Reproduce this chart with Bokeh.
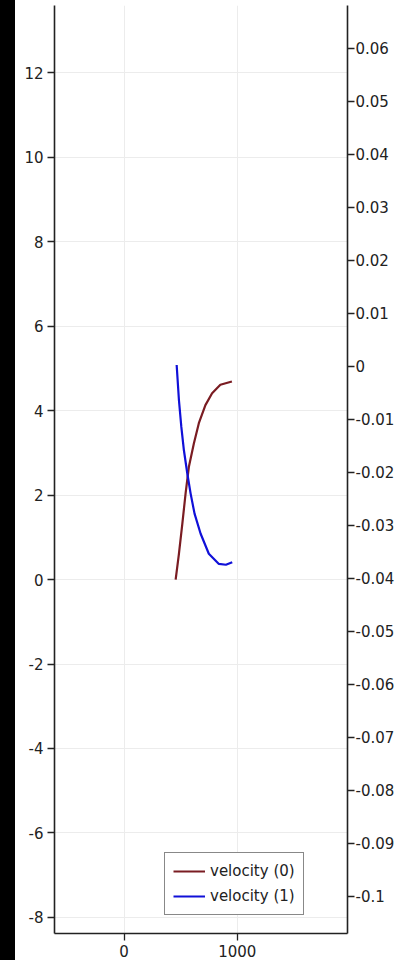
from bokeh.plotting import figure
from bokeh.models import (Range1d, LinearAxis, FixedTicker, CustomJSTickFormatter,
                          Legend, LegendItem, Div)
from bokeh.layouts import row
from bokeh.embed import file_html
from bokeh.resources import INLINE

# ---- data ----
v0_x = [456, 485, 515, 544, 573, 617, 661, 719, 778, 851, 953]
v0_y = [0.0, 0.61, 1.32, 2.04, 2.67, 3.22, 3.70, 4.13, 4.41, 4.61, 4.69]
v1_x = [465, 485, 506, 529, 559, 588, 623, 676, 749, 838, 900, 956]
v1_y = [5.08, 4.25, 3.62, 3.06, 2.51, 2.04, 1.56, 1.09, 0.61, 0.37, 0.35, 0.41]
series_names = ["velocity (0)", "velocity (1)"]
x_ticks = [0, 1000]
left_ticks = [-8, -6, -4, -2, 0, 2, 4, 6, 8, 10, 12]
right_ticks = [0.06, 0.05, 0.04, 0.03, 0.02, 0.01, 0.0, -0.01, -0.02, -0.03,
               -0.04, -0.05, -0.06, -0.07, -0.08, -0.09, -0.1]

FONT = "DejaVu Sans"
FS = "15px"
TXT = "#222222"

p = figure(width=386, height=960, output_backend="svg", toolbar_location=None,
           x_range=Range1d(-614, 1974), y_range=Range1d(-8.38, 13.59),
           min_border_left=39, min_border_right=54, min_border_top=5,
           min_border_bottom=27, x_axis_location="below", y_axis_location="left")
p.outline_line_color = None
p.background_fill_color = "white"
p.border_fill_color = "white"

p.extra_y_ranges = {"right": Range1d(-0.107, 0.0681)}
raxis = LinearAxis(y_range_name="right", ticker=FixedTicker(ticks=right_ticks))
raxis.formatter = CustomJSTickFormatter(
    code="var s = tick.toFixed(2).replace(/0+$/, '').replace(/\\.$/, ''); if (s === '-0') s = '0'; return s;")
p.add_layout(raxis, "right")

p.xaxis.ticker = FixedTicker(ticks=x_ticks)
p.yaxis[0].ticker = FixedTicker(ticks=left_ticks)
p.yaxis[0].formatter = CustomJSTickFormatter(code="return String(Math.round(tick));")
p.xaxis.formatter = CustomJSTickFormatter(code="return String(Math.round(tick));")

for ax in p.xaxis + p.yaxis:
    ax.axis_line_color = "#222222"
    ax.axis_line_width = 1.6
    ax.major_tick_line_color = "#222222"
    ax.major_tick_line_width = 1.3
    ax.major_tick_out = 7
    ax.major_tick_in = 0
    ax.minor_tick_line_color = None
    ax.major_label_text_font = FONT
    ax.major_label_text_font_size = FS
    ax.major_label_text_color = TXT
p.yaxis[0].major_label_standoff = 4
raxis.major_label_standoff = 1
p.xaxis.major_label_standoff = 4

p.xgrid.ticker = FixedTicker(ticks=x_ticks)
p.ygrid.ticker = FixedTicker(ticks=left_ticks)
p.grid.grid_line_color = "#ececec"
p.grid.grid_line_width = 1

r0 = p.line(v0_x, v0_y, line_color="#7a1c22", line_width=2.2)
r1 = p.line(v1_x, v1_y, line_color="#1010d8", line_width=2.2)

legend = Legend(items=[LegendItem(label=series_names[0], renderers=[r0]),
                       LegendItem(label=series_names[1], renderers=[r1])],
                location=(110, 18))
legend.border_line_color = "#111111"
legend.border_line_width = 1.2
legend.background_fill_color = "white"
legend.background_fill_alpha = 1
legend.label_text_font = FONT
legend.label_text_font_size = FS
legend.label_text_color = TXT
legend.glyph_width = 32
legend.glyph_height = 20
legend.label_height = 20
legend.label_standoff = 5
legend.spacing = 5
legend.padding = 8
legend.margin = 0
p.add_layout(legend, "center")

strip = Div(text="", width=15, height=960, margin=0,
            styles={"background-color": "black"})
layout = row(strip, p, spacing=0)

open("out.html", "w").write(file_html(layout, INLINE))
